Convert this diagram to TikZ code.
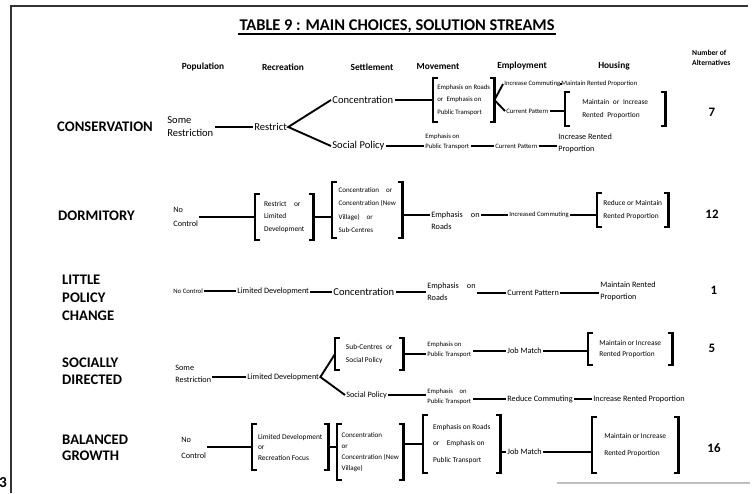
\documentclass[tikz,border=0pt]{standalone}
\usepackage{fontspec}
\setmainfont{Carlito}
\usepackage{tikz}
\usetikzlibrary{positioning,calc}

% square brackets round a node
\newcommand{\sqbrackets}[1]{%
  \draw[brk] ([xshift=4pt]#1.north west) -- (#1.north west) -- (#1.south west) -- ([xshift=4pt]#1.south west);
  \draw[brk] ([xshift=-4pt]#1.north east) -- (#1.north east) -- (#1.south east) -- ([xshift=-4pt]#1.south east);}

\begin{document}
\begin{tikzpicture}[
    x=0.03cm, y=-0.03cm,
    rowlabel/.style={font=\fontsize{12.5}{15}\selectfont\bfseries, anchor=west, align=left, inner sep=0pt},
    head/.style={font=\fontsize{8}{9}\selectfont\bfseries},
    lg/.style={font=\fontsize{9}{11}\selectfont, anchor=west, align=left, inner sep=1pt},
    md/.style={font=\fontsize{7}{10}\selectfont, anchor=west, align=left, inner sep=1pt},
    sm/.style={font=\fontsize{5.7}{8.5}\selectfont, anchor=west, align=left, inner sep=1pt},
    brackbox/.style 2 args={font=\fontsize{6.3}{10.5}\selectfont, anchor=west, align=left,
        minimum width=#1*0.03cm, minimum height=#2*0.03cm, inner xsep=3pt, inner ysep=0pt},
    count/.style={font=\fontsize{11}{12}\selectfont\bfseries},
    link/.style={line width=1.6pt},
    brk/.style={line width=2pt}
]
    \useasboundingbox (0,0) rectangle (753,493);

    % Frame
    \draw[line width=1.3pt, black!80] (11,493) -- (11,6) -- (748,6);
    \draw[line width=1.3pt, gray!50] (557,483) -- (750,483);
    \node[font=\fontsize{13}{13}\selectfont\bfseries, anchor=west, inner sep=0pt] (page) at (-1,483) {3};

    % Title
    \node[font=\fontsize{14}{15}\selectfont\bfseries, inner sep=1pt] (title) at (397,26) {TABLE 9 : MAIN CHOICES, SOLUTION STREAMS};
    \draw[line width=1.5pt] (title.south west) -- (title.south east);

    % Column heads
    \node[head] (hPop) at (203,67) {Population};
    \node[head] (hRec) at (283,67) {Recreation};
    \node[head] (hSet) at (372,67) {Settlement};
    \node[head] (hMov) at (438,66) {Movement};
    \node[head] (hEmp) at (522,66) {Employment};
    \node[head] (hHou) at (614,66) {Housing};
    \node[font=\fontsize{6.5}{8}\selectfont\bfseries, align=left, anchor=west, inner sep=0pt] (hNum) at (692,58) {Number of\\Alternatives};

    % Conservation
    \node[rowlabel] (lblCons) at (57,127) {CONSERVATION};
    \node[lg] (pop1) at (166,127) {Some\\Restriction};
    \node[lg] (rec1) at (253,127) {Restrict};
    \node[lg] (set1a) at (331,100) {Concentration};
    \node[lg] (set1b) at (331,146) {Social Policy};
    \node[brackbox={61}{44}, font=\fontsize{5.8}{10.7}\selectfont] (mov1a) at (433,100) {Emphasis on Roads\\or\enspace Emphasis on\\Public Transport};
    \node[sm] (emp1a) at (503,84) {Increase Commuting};
    \node[sm] (hou1a) at (560,84) {Maintain Rented Proportion};
    \node[sm] (emp1b) at (505,111) {Current Pattern};
    \node[brackbox={100}{33}] (hou1b) at (565,109) {Maintain\enspace or\enspace Increase\\Rented\enspace Proportion};
    \node[sm] (mov1b) at (424,142) {Emphasis on\\Public Transport};
    \node[sm] (emp1c) at (494,146) {Current Pattern};
    \node[md] (hou1c) at (557,143) {Increase Rented\\Proportion};
    \node[count] (num1) at (712,112) {7};

    \draw[link] (rec1.west) -- (rec1.west -| pop1.east);
    \draw[link] (set1a.west) -- (rec1.east) -- (set1b.west);
    \draw[link] (set1a.east) -- (set1a.east -| mov1a.west);
    \draw[link] (emp1a.west) -- (mov1a.east) -- (emp1b.west);
    \draw[link] (emp1a.east) -- (hou1a.west);
    \draw[link] (emp1b.east) -- (emp1b.east -| hou1b.west);
    \draw[link] (set1b.east) -- (set1b.east -| mov1b.west);
    \draw[link] (emp1c.west) -- (emp1c.west -| mov1b.east);
    \draw[link] (emp1c.east) -- (emp1c.east -| hou1c.west);

    % Dormitory
    \node[rowlabel] (lblDorm) at (58,216) {DORMITORY};
    \node[md, font=\fontsize{7}{12}\selectfont] (pop2) at (172,217) {No\\Control};
    \node[brackbox={58}{45}] (rec2) at (255,217) {Restrict\quad or\\Limited\\Development};
    \node[brackbox={70}{56}, font=\fontsize{6}{11.4}\selectfont] (set2) at (332,210) {Concentration\quad or\\Concentration (New\\Village)\quad or\\Sub-Centres};
    \node[md] (mov2) at (430,221) {Emphasis\quad on\\Roads};
    \node[sm] (emp2) at (508,215) {Increased Commuting};
    \node[brackbox={71}{33}] (hou2) at (597,210) {Reduce or Maintain\\Rented Proportion};
    \node[count] (num2) at (712,214) {12};

    \draw[link] (rec2.west) -- (rec2.west -| pop2.east);
    \draw[link] (rec2.east) -- (rec2.east -| set2.west);
    \draw[link] (set2.east |- emp2.west) -- (mov2.west |- emp2.west);
    \draw[link] (emp2.west) -- (emp2.west -| mov2.east);
    \draw[link] (emp2.east) -- (emp2.east -| hou2.west);

    % Little policy change
    \node[rowlabel, font=\fontsize{12.5}{15.4}\selectfont\bfseries] (lblLittle) at (62,298) {LITTLE\\POLICY\\CHANGE};
    \node[sm] (pop3) at (172,291) {No Control};
    \node[md] (rec3) at (236,291) {Limited Development};
    \node[lg] (set3) at (332,292) {Concentration};
    \node[md] (mov3) at (426,292) {Emphasis\quad on\\Roads};
    \node[md] (emp3) at (506,293) {Current Pattern};
    \node[md] (hou3) at (599,291) {Maintain Rented\\Proportion};
    \node[count] (num3) at (714,290) {1};

    \draw[link] (rec3.west) -- (rec3.west -| pop3.east);
    \draw[link] (set3.west) -- (set3.west -| rec3.east);
    \draw[link] (set3.east) -- (set3.east -| mov3.west);
    \draw[link] (emp3.west) -- (emp3.west -| mov3.east);
    \draw[link] (emp3.east) -- (emp3.east -| hou3.west);

    % Socially directed
    \node[rowlabel, font=\fontsize{12.5}{14.5}\selectfont\bfseries] (lblSoc) at (62,371) {SOCIALLY\\DIRECTED};
    \node[md] (pop4) at (174,374) {Some\\Restriction};
    \node[md] (rec4) at (246,377) {Limited Development};
    \node[brackbox={68}{32}, font=\fontsize{6.3}{11}\selectfont] (set4a) at (335,354) {Sub-Centres\enspace or\\Social Policy};
    \node[md] (set4b) at (345,395) {Social Policy};
    \node[sm] (mov4a) at (426,350) {Emphasis on\\Public Transport};
    \node[md] (emp4a) at (506,351) {Job Match};
    \node[brackbox={84}{32}, font=\fontsize{6.3}{9.6}\selectfont] (hou4a) at (588,349) {Maintain or Increase\\Rented Proportion};
    \node[count] (num4) at (712,348) {5};
    \node[sm] (mov4b) at (426,397) {Emphasis\quad on\\Public Transport};
    \node[md] (emp4b) at (506,399) {Reduce Commuting};
    \node[md] (hou4b) at (592,399) {Increase Rented Proportion};

    \draw[link] (rec4.west) -- (rec4.west -| pop4.east);
    \draw[link] (set4a.west) -- (rec4.east) -- (set4b.west);
    \draw[link] (set4a.east) -- (set4a.east -| mov4a.west);
    \draw[link] (emp4a.west) -- (emp4a.west -| mov4a.east);
    \draw[link] (emp4a.east) -- (emp4a.east -| hou4a.west);
    \draw[link] (set4b.east) -- (set4b.east -| mov4b.west);
    \draw[link] (emp4b.west) -- (emp4b.west -| mov4b.east);
    \draw[link] (emp4b.east) -- (hou4b.west);

    % Balanced growth
    \node[rowlabel, font=\fontsize{12.5}{14}\selectfont\bfseries] (lblBal) at (62,448) {BALANCED\\GROWTH};
    \node[md, font=\fontsize{7}{13}\selectfont] (pop5) at (180,448) {No\\Control};
    \node[brackbox={76}{45}, font=\fontsize{6.3}{9}\selectfont] (rec5) at (252,447) {Limited Development\\or\\Recreation Focus};
    \node[brackbox={66}{55}, font=\fontsize{6}{9.2}\selectfont] (set5) at (337,452) {Concentration\\or\\Concentration (New\\Village)};
    \node[brackbox={77}{58}, font=\fontsize{6.3}{14}\selectfont] (mov5) at (423,444) {Emphasis on Roads\\or\quad Emphasis on\\Public Transport};
    \node[md] (emp5) at (506,452) {Job Match};
    \node[brackbox={86}{56}, font=\fontsize{6.3}{14.5}\selectfont] (hou5) at (592,445) {Maintain or Increase\\Rented Proportion};
    \node[count] (num5) at (714,448) {16};

    \draw[link] (rec5.west) -- (rec5.west -| pop5.east);
    \draw[link] (rec5.east) -- (rec5.east -| set5.west);
    \draw[link] (mov5.west) -- (mov5.west -| set5.east);
    \draw[link] (emp5.west) -- (emp5.west -| mov5.east);
    \draw[link] (emp5.east) -- (emp5.east -| hou5.west);

    % Brackets
    \foreach \b in {mov1a,hou1b,rec2,set2,hou2,set4a,hou4a,rec5,set5,mov5,hou5} {
        \sqbrackets{\b}
    }

\end{tikzpicture}
\end{document}
